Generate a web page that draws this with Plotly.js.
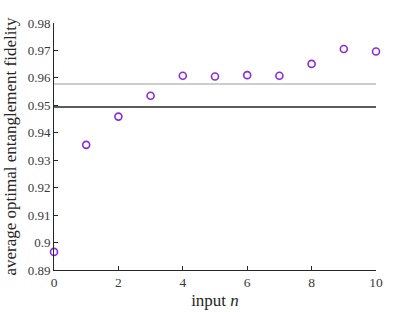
<!DOCTYPE html>
<html><head><meta charset="utf-8">
<script src="https://cdn.plot.ly/plotly-3.0.1.min.js"></script>
<style>html,body{margin:0;padding:0;background:#fff}#chart{width:415px;height:312px}</style>
</head><body><div id="chart"></div>
<script>
const inputN = [0,1,2,3,4,5,6,7,8,9,10];
const fidelity = [0.8966,0.9356,0.9459,0.9535,0.9608,0.9605,0.9610,0.9608,0.9651,0.9705,0.9696];
const greyLevel = 0.9578;
const blackLevel = 0.9494;
const yTicks = [0.89,0.9,0.91,0.92,0.93,0.94,0.95,0.96,0.97,0.98];
const yTickText = ['0.89','0.9','0.91','0.92','0.93','0.94','0.95','0.96','0.97','0.98'];
const xTicks = [0,2,4,6,8,10];

const fam = 'Liberation Serif';
const traces = [
  {x:[inputN[0], inputN[inputN.length-1]], y:[greyLevel, greyLevel], mode:'lines', line:{color:'#bdbdbd', width:1.5}, hoverinfo:'skip'},
  {x:[inputN[0], inputN[inputN.length-1]], y:[blackLevel, blackLevel], mode:'lines', line:{color:'#262626', width:1.3}, hoverinfo:'skip'},
  {x:inputN, y:fidelity, mode:'markers', marker:{symbol:'circle-open', size:7, color:'#8a2be2', line:{width:1.6, color:'#8a2be2'}}, cliponaxis:false}
];
const layout = {
  width:415, height:312, showlegend:false,
  paper_bgcolor:'#fff', plot_bgcolor:'#fff',
  margin:{l:54, r:39, t:23, b:42},
  font:{family:fam, color:'#262626'},
  xaxis:{range:[0,10], tickvals:xTicks, ticks:'inside', ticklen:4, tickcolor:'#262626', showline:true, linecolor:'#262626', linewidth:1, showgrid:false, zeroline:false, tickfont:{family:fam, size:13.5, color:'#3a3a3a'},
    title:{text:'input <i>n</i>', font:{family:fam, size:17, color:'#262626'}, standoff:4}},
  yaxis:{range:[0.89,0.98], tickvals:yTicks, ticktext:yTickText, ticks:'inside', ticklen:4, tickcolor:'#262626', showline:true, linecolor:'#262626', linewidth:1, showgrid:false, zeroline:false, tickfont:{family:fam, size:13, color:'#3a3a3a'},
    title:{text:'average optimal entanglement fidelity', font:{family:fam, size:17, color:'#262626'}, standoff:6}}
};
Plotly.newPlot('chart', traces, layout, {staticPlot:true, displayModeBar:false});
</script></body></html>
